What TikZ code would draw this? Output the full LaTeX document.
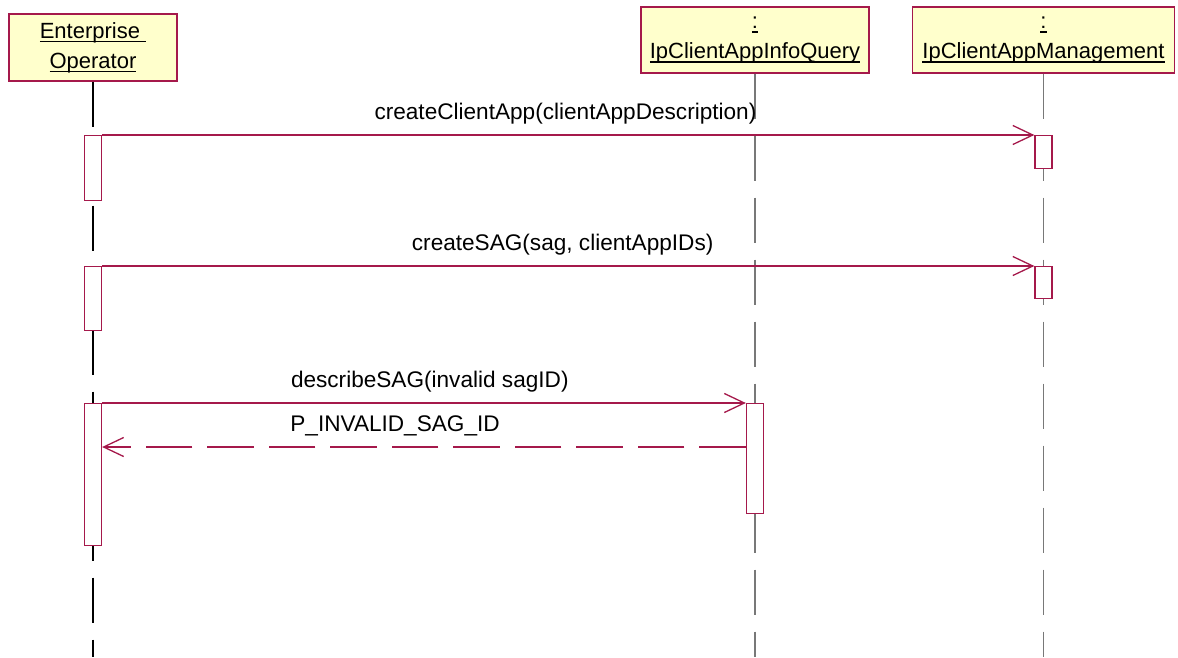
\documentclass[tikz,border=0pt]{standalone}
\usepackage{fontspec}
\setmainfont{Liberation Sans}
\usetikzlibrary{arrows.meta}
\definecolor{umlred}{RGB}{165,25,75}
\definecolor{umlfill}{RGB}{255,255,204}
\definecolor{lifegray}{RGB}{120,120,120}
\newcommand{\uname}[1]{\leavevmode\setbox0\hbox{#1}\rlap{\rule[-4.2pt]{\wd0}{1.4pt}}\box0}

\begin{document}
\begin{tikzpicture}[x=1pt, y=-1pt,
  obj/.style={draw=umlred, fill=umlfill, line width=1.3pt, align=center, inner sep=0pt, font=\fontsize{22}{30}\selectfont},
  act/.style={draw=umlred, fill=white, line width=1.3pt, minimum width=17pt, inner sep=0pt, anchor=north},
  life/.style={line width=1.5pt, dash pattern=on 45.5pt off 16.5pt},
  msg/.style={umlred, line width=1.3pt, -{Straight Barb[length=20pt,width=19pt]}},
  ret/.style={msg, dash pattern=on 46.5pt off 15pt},
  lbl/.style={anchor=base, yshift=15.5pt, text=black, font=\fontsize{22.6}{26}\selectfont}]
\useasboundingbox (0,0) rectangle (1178,657);
\node[obj, minimum width=168pt, minimum height=67pt] (ent) at (93,47.5) {\uname{Enterprise\ }\\\uname{Operator}};
\node[obj, minimum width=228pt, minimum height=66pt] (info) at (755,40) {\uname{:}\\\uname{IpClientAppInfoQuery}};
\node[obj, minimum width=262pt, minimum height=66pt] (mgmt) at (1043.5,40) {\uname{:}\\\uname{IpClientAppManagement}};
\coordinate (bot) at (0,657);
\foreach \o/\c/\w in {ent/black/1.1pt, info/lifegray/1.5pt, mgmt/lifegray/1.5pt}
  \draw[life, \c, line width=\w] (\o.south) -- (\o.south |- bot);
\node[act, minimum height=65pt] (ea1) at (ent.south |- 0,135) {};
\node[act, minimum height=64pt] (ea2) at (ent.south |- 0,266) {};
\node[act, minimum height=142pt] (ea3) at (ent.south |- 0,403) {};
\node[act, minimum height=33pt] (ma1) at (mgmt.south |- 0,135) {};
\node[act, minimum height=32pt] (ma2) at (mgmt.south |- 0,266) {};
\node[act, minimum height=110pt] (ia1) at (info.south |- 0,403) {};
\draw[msg] (ea1.north east) -- (ma1.north west) node[lbl, pos=.497] {createClientApp(clientAppDescription)};
\draw[msg] (ea2.north east) -- (ma2.north west) node[lbl, pos=.494] {createSAG(sag, clientAppIDs)};
\draw[msg] (ea3.north east) -- (ia1.north west) node[lbl, pos=.509] {describeSAG(invalid sagID)};
\coordinate (r0) at (ia1.west |- 0,447);
\coordinate (r1) at (ea3.east |- 0,447);
\draw[ret] (r0) -- (r1) node[lbl, pos=.545] {P\_INVALID\_SAG\_ID};
\end{tikzpicture}
\end{document}
